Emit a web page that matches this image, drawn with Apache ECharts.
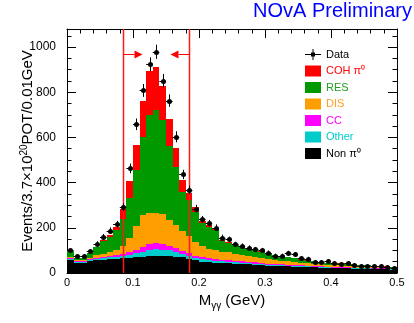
<!DOCTYPE html>
<html>
<head>
<meta charset="utf-8">
<script src="https://cdn.jsdelivr.net/npm/echarts@6/dist/echarts.min.js"></script>
<style>
  html, body { margin: 0; padding: 0; background: #fff; }
  #chart { width: 414px; height: 323px; }
</style>
</head>
<body>
<div id="chart"></div>
<script>
// 50 bins of 0.01 GeV from 0 to 0.5
const binWidth = 0.01;
const dataCounts = [100, 74, 74, 96, 129, 160, 188, 216, 291, 463,
  658, 808, 924, 979, 852, 763, 603, 436, 367, 285,
  237, 220, 201, 157, 149, 127, 120, 112, 105, 101,
  90, 77, 77, 89, 83, 65, 64, 48, 49, 55,
  43, 40, 44, 35, 30, 29, 32, 31, 27, 24];
const nonPi0 = [59, 44, 44, 52, 57, 59, 61, 63, 65, 67,
  70, 73, 76, 77, 77, 76, 73, 69, 64, 56,
  50, 48, 46, 45, 43, 42, 40, 38, 37, 35,
  33, 32, 31, 29, 28, 27, 26, 25, 24, 22,
  21, 21, 20, 19, 18, 18, 17, 16, 16, 15];
const other = [5, 4, 4, 5, 6, 7, 8, 9, 11, 14,
  18, 22, 26, 28, 27, 24, 20, 16, 13, 11,
  10, 9, 8, 7, 7, 6, 6, 5, 5, 5,
  4, 4, 4, 4, 3, 3, 3, 3, 3, 3,
  2, 2, 2, 2, 2, 2, 2, 2, 2, 2];
const cc = [3, 3, 3, 3, 4, 5, 6, 7, 8, 10,
  14, 20, 26, 28, 25, 20, 16, 13, 11, 10,
  9, 8, 8, 7, 7, 6, 6, 5, 5, 5,
  5, 4, 4, 4, 4, 4, 3, 3, 3, 3,
  3, 3, 3, 3, 3, 3, 2, 2, 2, 2];
const dis = [6, 5, 5, 8, 11, 14, 17, 22, 36, 65,
  108, 140, 138, 133, 130, 114, 102, 86, 77, 61,
  49, 43, 39, 36, 34, 32, 29, 27, 24, 21,
  19, 17, 15, 14, 13, 12, 11, 10, 10, 9,
  8, 8, 7, 7, 6, 6, 5, 5, 4, 4];
const res = [23, 12, 12, 20, 36, 58, 68, 90, 119, 174,
  245, 347, 434, 455, 419, 326, 259, 176, 160, 132,
  102, 96, 89, 46, 43, 36, 34, 31, 30, 29,
  26, 21, 19, 18, 17, 13, 12, 10, 8, 8,
  9, 8, 8, 7, 6, 6, 5, 5, 4, 4];
const coh = [0, 0, 0, 0, 3, 5, 8, 14, 43, 77,
  110, 160, 195, 189, 150, 120, 85, 50, 30, 20,
  12, 8, 6, 4, 3, 2, 2, 2, 2, 2,
  1, 1, 1, 1, 1, 1, 1, 1, 1, 1,
  1, 1, 1, 1, 1, 1, 1, 1, 1, 1];

// signal window cuts
const cuts = [0.085, 0.185];
const cutDirs = [1, -1];
const arrowLevel = 970;

const xMax = 0.5;
const yMax = 1080;
const font = 'Liberation Sans, Arial, Helvetica, sans-serif';
const narrowFont = 'Liberation Sans Narrow, Arial Narrow, Liberation Sans, sans-serif';

const components = [
  {name: 'Non π⁰', values: nonPi0, color: '#000000'},
  {name: 'Other', values: other, color: '#00cccc'},
  {name: 'CC', values: cc, color: '#ff00ff'},
  {name: 'DIS', values: dis, color: '#ff9e00'},
  {name: 'RES', values: res, color: '#009900'},
  {name: 'COH π⁰', values: coh, color: '#ff0000'}
];

const base = dataCounts.map(() => 0);
const stackSeries = components.map(c => {
  const rows = c.values.map((v, i) => {
    const lo = base[i];
    base[i] += v;
    return [i * binWidth, (i + 1) * binWidth, lo, base[i]];
  });
  return {
    name: c.name,
    type: 'custom',
    data: rows,
    itemStyle: {color: c.color},
    encode: {x: [0, 1], y: [2, 3]},
    renderItem(params, api) {
      const p0 = api.coord([api.value(0), api.value(3)]);
      const p1 = api.coord([api.value(1), api.value(2)]);
      const x0 = Math.round(p0[0]), x1 = Math.round(p1[0]);
      const y0 = Math.round(p0[1]), y1 = Math.round(p1[1]);
      return {
        type: 'rect',
        shape: {x: x0, y: y0, width: x1 - x0, height: y1 - y0},
        style: {fill: api.visual('color')}
      };
    }
  };
});

const cutSeries = {
  type: 'custom',
  silent: true,
  z: 4,
  data: cuts.map((c, i) => [c, cutDirs[i]]),
  encode: {x: 0},
  renderItem(params, api) {
    const x = api.value(0), dir = api.value(1);
    const bot = api.coord([x, 0]);
    const top = api.coord([x, yMax]);
    const a = api.coord([x, arrowLevel]);
    const px = Math.round(bot[0]) + 0.5;
    const ay = Math.round(a[1]) + 0.5;
    const lineEnd = px + dir * 11;
    const tip = px + dir * 19;
    return {
      type: 'group',
      children: [
        {type: 'rect', shape: {x: px - 0.75, y: top[1], width: 1.5, height: bot[1] - top[1]}, style: {fill: '#ff1a1a'}},
        {type: 'line', shape: {x1: px, y1: ay, x2: lineEnd, y2: ay}, style: {stroke: '#ff0000', lineWidth: 1}},
        {type: 'polygon', shape: {points: [[lineEnd, ay - 4], [tip, ay], [lineEnd, ay + 4]]}, style: {fill: '#ff0000'}}
      ]
    };
  }
};

const dataSeries = {
  name: 'Data',
  type: 'custom',
  z: 5,
  data: dataCounts.map((n, i) => [(i + 0.5) * binWidth, n, Math.sqrt(n)]),
  itemStyle: {color: '#000000'},
  encode: {x: 0, y: 1},
  renderItem(params, api) {
    const x = api.value(0), y = api.value(1), e = api.value(2);
    const c = api.coord([x, y]);
    const l = api.coord([x - binWidth / 2, y]);
    const r = api.coord([x + binWidth / 2, y]);
    const t = api.coord([x, y + e]);
    const b = api.coord([x, y - e]);
    const cx = Math.round(c[0]) + 0.5, cy = Math.round(c[1]) + 0.5;
    return {
      type: 'group',
      children: [
        {type: 'line', shape: {x1: l[0], y1: cy, x2: r[0], y2: cy}, style: {stroke: '#000', lineWidth: 1}},
        {type: 'line', shape: {x1: cx, y1: t[1], x2: cx, y2: b[1]}, style: {stroke: '#000', lineWidth: 1}},
        {type: 'circle', shape: {cx: cx, cy: cy, r: 2.5}, style: {fill: '#000'}}
      ]
    };
  }
};

function xAxisDef(pos, withLabels) {
  return {
    type: 'value', position: pos, min: 0, max: xMax, interval: 0.1,
    axisLine: {show: true, onZero: false, lineStyle: {color: '#000', width: 1}},
    axisTick: {show: true, inside: true, length: 9, lineStyle: {color: '#000'}},
    minorTick: {show: true, splitNumber: 5, length: 4.5, lineStyle: {color: '#000'}},
    splitLine: {show: false},
    axisLabel: {show: withLabels, color: '#000', fontSize: 11, fontFamily: font, margin: 4},
    name: withLabels ? '{a|M}{s|γγ}{a| (GeV)}' : '',
    nameLocation: 'middle',
    nameGap: 18,
    nameMoveOverlap: false,
    nameTextStyle: {
      rich: {
        a: {fontSize: 15, lineHeight: 20, fontFamily: font, color: '#000'},
        s: {fontSize: 10, lineHeight: 10, verticalAlign: 'bottom', fontFamily: font, color: '#000'}
      }
    }
  };
}

function yAxisDef(pos, withLabels) {
  return {
    type: 'value', position: pos, min: 0, max: yMax, interval: 200,
    axisLine: {show: true, onZero: false, lineStyle: {color: '#000', width: 1}},
    axisTick: {show: true, inside: true, length: 9, lineStyle: {color: '#000'}},
    minorTick: {show: true, splitNumber: 4, length: 4.5, lineStyle: {color: '#000'}},
    splitLine: {show: false},
    axisLabel: {
      show: withLabels, showMaxLabel: false, color: '#000', fontSize: 12, fontFamily: narrowFont, margin: 11,
      formatter: v => String(v)
    },
    name: withLabels ? '{a|Events/3.7×10}{s|20}{a|POT/0.01GeV}' : '',
    nameLocation: 'middle',
    nameRotate: 90,
    nameGap: 30,
    nameMoveOverlap: false,
    nameTextStyle: {
      rich: {
        a: {fontSize: 15, lineHeight: 18, fontFamily: font, color: '#000'},
        s: {fontSize: 10, lineHeight: 11, verticalAlign: 'top', fontFamily: font, color: '#000'}
      }
    }
  };
}

const chart = echarts.init(document.getElementById('chart'));
chart.setOption({
  animation: false,
  backgroundColor: '#fff',
  title: {
    text: 'NOvA Preliminary',
    right: 2, top: 1, padding: 0,
    textStyle: {color: '#0000ff', fontSize: 20, fontWeight: 'normal', fontFamily: font}
  },
  grid: {left: 67, right: 17, top: 29, bottom: 50, containLabel: false, outerBoundsMode: 'none'},
  legend: {
    orient: 'vertical',
    left: 305, top: 49, padding: 0,
    itemWidth: 16, itemHeight: 11, itemGap: 5.5,
    selectedMode: false,
    textStyle: {fontSize: 11, fontFamily: font},
    data: [
      {name: 'Data', icon: 'path://M0,5h16v1h-16z M7.5,0h1v11h-1z M6,3.5h4v4h-4z', textStyle: {color: '#000000'}},
      {name: 'COH π⁰', icon: 'rect', textStyle: {color: '#ff0000'}},
      {name: 'RES', icon: 'rect', textStyle: {color: '#22a022'}},
      {name: 'DIS', icon: 'rect', textStyle: {color: '#ffa020'}},
      {name: 'CC', icon: 'rect', textStyle: {color: '#ff00ff'}},
      {name: 'Other', icon: 'rect', textStyle: {color: '#00cccc'}},
      {name: 'Non π⁰', icon: 'rect', textStyle: {color: '#000000'}}
    ]
  },
  xAxis: [xAxisDef('bottom', true), xAxisDef('top', false)],
  yAxis: [yAxisDef('left', true), yAxisDef('right', false)],
  series: [...stackSeries, cutSeries, dataSeries]
});
</script>
</body>
</html>
